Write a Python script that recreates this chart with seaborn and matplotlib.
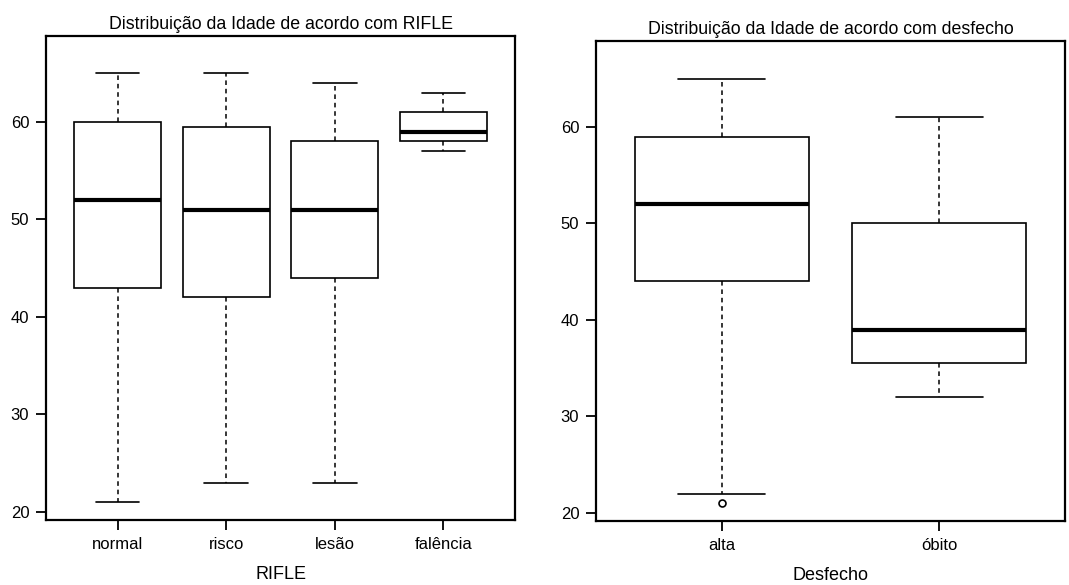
import numpy as np
import pandas as pd
import matplotlib
matplotlib.use("Agg")
import matplotlib.pyplot as plt
import seaborn as sns

# ---- data (5-number summaries as samples) ----
rifle_categories = ["normal", "risco", "lesão", "falência"]
idade_normal = [21, 43, 52, 60, 65]
idade_risco = [23, 42, 51, 59.5, 65]
idade_lesao = [23, 44, 51, 58, 64]
idade_falencia = [57, 58, 59, 61, 63]

desfecho_categories = ["alta", "óbito"]
idade_alta = [21, 22, 44, 48, 52, 55, 59, 62, 65]
idade_obito = [32, 35.5, 39, 50, 61]

y_ticks = [20, 30, 40, 50, 60]

df_rifle = pd.DataFrame({
    "RIFLE": (["normal"] * len(idade_normal) + ["risco"] * len(idade_risco)
              + ["lesão"] * len(idade_lesao) + ["falência"] * len(idade_falencia)),
    "Idade": idade_normal + idade_risco + idade_lesao + idade_falencia,
})
df_desf = pd.DataFrame({
    "Desfecho": ["alta"] * len(idade_alta) + ["óbito"] * len(idade_obito),
    "Idade": idade_alta + idade_obito,
})

sns.set_style("ticks")
plt.rcParams["font.family"] = ["Liberation Sans", "DejaVu Sans"]
plt.rcParams["text.color"] = "black"
plt.rcParams["axes.labelcolor"] = "black"

fig = plt.figure(figsize=(10.69, 5.85), dpi=100)
ax1 = fig.add_axes([0.043, 0.1111, 0.4388, 0.8274])
ax2 = fig.add_axes([0.5575, 0.1094, 0.4388, 0.8205])

box_kw = dict(
    color="white", linecolor="black", linewidth=1.2, width=0.8,
    whiskerprops=dict(linestyle=(0, (3, 2.5)), color="black", linewidth=1.1),
    capprops=dict(color="black", linewidth=1.2),
    medianprops=dict(color="black", linewidth=3),
    boxprops=dict(edgecolor="black", linewidth=1.2, facecolor="white"),
    flierprops=dict(marker="o", markerfacecolor="none", markeredgecolor="black",
                    markersize=5, markeredgewidth=1.2),
)

sns.boxplot(data=df_rifle, x="RIFLE", y="Idade", order=rifle_categories, ax=ax1, **box_kw)
sns.boxplot(data=df_desf, x="Desfecho", y="Idade", order=desfecho_categories, ax=ax2, **box_kw)

ax1.set_xlim(-0.66, 3.66)
ax1.set_ylim(19.18, 68.8)
ax2.set_xlim(-0.58, 1.58)
ax2.set_ylim(19.17, 68.9)

ax1.set_title("Distribuição da Idade de acordo com RIFLE", fontsize=12.8, pad=5, color="black")
ax2.set_title("Distribuição da Idade de acordo com desfecho", fontsize=12.8, pad=5, color="black")

for ax, xl in ((ax1, "RIFLE"), (ax2, "Desfecho")):
    ax.set_yticks(y_ticks)
    ax.set_ylabel("")
    ax.set_xlabel(xl, fontsize=13, labelpad=10, color="black")
    ax.tick_params(axis="both", direction="out", length=7, width=1.3,
                   labelsize=12, color="black", labelcolor="black", pad=5)
    for s in ax.spines.values():
        s.set_visible(True)
        s.set_linewidth(1.6)
        s.set_color("black")

fig.savefig("out.png", dpi=100, facecolor="white")
